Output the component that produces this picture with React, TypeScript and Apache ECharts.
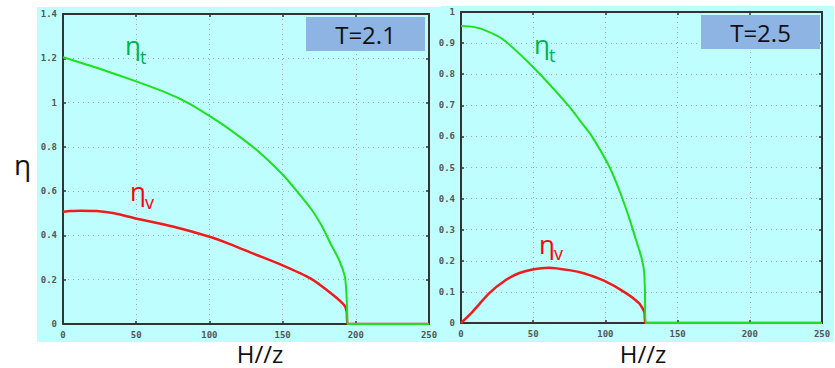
import React, { useEffect, useRef } from "react";
import * as echarts from "echarts";

// T = 2.1 panel
const leftTransverse: [number, number][] = [
  [0, 1.205], [12, 1.18], [25, 1.153], [49, 1.098], [70, 1.046], [85, 1.0],
  [100, 0.94], [114, 0.878], [131.5, 0.79], [150, 0.675], [160, 0.598],
  [170, 0.515], [177, 0.44], [183, 0.36], [188.6, 0.289], [192.5, 0.215],
  [193.5, 0.15], [194, 0.08], [194.3, 0], [250, 0],
];
const leftVector: [number, number][] = [
  [0, 0.507], [5, 0.51], [12, 0.512], [23, 0.51], [35, 0.5], [49, 0.478],
  [75, 0.44], [99.5, 0.395], [114, 0.361], [130, 0.318], [150, 0.265],
  [169, 0.206], [183, 0.139], [192, 0.086], [193.8, 0.056], [194.3, 0], [250, 0],
];
// T = 2.5 panel
const rightTransverse: [number, number][] = [
  [0, 0.955], [7, 0.953], [14.6, 0.945], [28.7, 0.913], [50.7, 0.819], [75, 0.696],
  [82, 0.653], [90, 0.605], [103, 0.5], [111, 0.41], [117, 0.33],
  [121, 0.27], [123.6, 0.232], [125.5, 0.2], [126.8, 0.165], [127.4, 0.1],
  [127.8, 0], [250, 0],
];
const rightVector: [number, number][] = [
  [0, 0], [8, 0.036], [19.4, 0.095], [31, 0.138], [40, 0.16], [49.5, 0.172],
  [61, 0.178], [75, 0.17], [85, 0.16], [99, 0.136], [114, 0.097],
  [123.6, 0.062], [127, 0.035], [127.8, 0], [250, 0],
];

const xTicks = { min: 0, max: 250, interval: 50 };
const leftYTicks = { min: 0, max: 1.4, interval: 0.2 };
const rightYTicks = { min: 0, max: 1, interval: 0.1 };
const panelTitles = ["T=2.1", "T=2.5"];

const GREEN = "#1EE01E";
const RED = "#EE1C1C";
const LABEL_GREEN = "#00B050";
const LABEL_RED = "#FF0000";
const FRAME = "#333333";
const TICK_FONT = { color: "#555", fontSize: 9, fontFamily: "DejaVu Sans Mono", fontWeight: "bold" as const };

export default function App() {
  const ref = useRef<HTMLDivElement>(null);
  useEffect(() => {
    if (!ref.current) return;
    const chart = echarts.init(ref.current, undefined, { renderer: "svg" });

    const mainX = (gridIndex: number) => ({
      type: "value" as const, gridIndex, position: "bottom" as const, ...xTicks,
      axisLine: { show: true, onZero: false, lineStyle: { color: FRAME, width: 2 } },
      axisTick: { show: true, inside: true, length: 3, lineStyle: { color: FRAME, width: 1.5 } },
      axisLabel: { ...TICK_FONT, margin: 6 },
      splitLine: { show: true, lineStyle: { color: "#9aa", type: [1, 4] as any, width: 1 } },
    });
    const topX = (gridIndex: number) => ({
      type: "value" as const, gridIndex, position: "top" as const, ...xTicks,
      axisLine: { show: true, onZero: false, lineStyle: { color: FRAME, width: 2 } },
      axisTick: { show: true, inside: true, length: 3, lineStyle: { color: FRAME, width: 1.5 } },
      axisLabel: { show: false }, splitLine: { show: false },
    });
    const mainY = (gridIndex: number, t: any) => ({
      type: "value" as const, gridIndex, position: "left" as const, ...t,
      axisLine: { show: true, onZero: false, lineStyle: { color: FRAME, width: 2 } },
      axisTick: { show: true, inside: true, length: 3, lineStyle: { color: FRAME, width: 1.5 } },
      axisLabel: { ...TICK_FONT, margin: 6 },
      splitLine: { show: true, lineStyle: { color: "#9aa", type: [1, 4] as any, width: 1 } },
    });
    const rightY = (gridIndex: number, t: any) => ({
      type: "value" as const, gridIndex, position: "right" as const, ...t,
      axisLine: { show: true, onZero: false, lineStyle: { color: FRAME, width: 2 } },
      axisTick: { show: true, inside: true, length: 3, lineStyle: { color: FRAME, width: 1.5 } },
      axisLabel: { show: false }, splitLine: { show: false },
    });

    const line = (data: [number, number][], color: string, width: number, xi: number, yi: number, z: number) => ({
      type: "line" as const, data, xAxisIndex: xi, yAxisIndex: yi, symbol: "none",
      smooth: 0.2,
      lineStyle: { color, width }, z,
    });

    const txt = (text: string, x: number, y: number, size: number, fill: string, align = "left") => ({
      type: "text" as const, x, y, z: 50,
      style: { text, fill, font: `${size}px "Open Sans"`, align, verticalAlign: "middle" },
    });

    chart.setOption({
      animation: false,
      grid: [
        { left: 63, top: 14, right: 406, bottom: 44 },
        { left: 461, top: 12, right: 13, bottom: 45 },
      ],
      xAxis: [mainX(0), topX(0), mainX(1), topX(1)],
      yAxis: [mainY(0, leftYTicks), rightY(0, leftYTicks), mainY(1, rightYTicks), rightY(1, rightYTicks)],
      series: [
        line(leftVector, RED, 2.5, 0, 0, 3),
        line(leftTransverse, GREEN, 2, 0, 0, 4),
        line(rightVector, RED, 2.5, 2, 2, 3),
        line(rightTransverse, GREEN, 2, 2, 2, 4),
      ],
      graphic: [
        { type: "rect", z: -10, silent: true, shape: { x: 37, y: 7, width: 404, height: 335 }, style: { fill: "#BEFEFE" } },
        { type: "rect", z: -10, silent: true, shape: { x: 441, y: 6, width: 393, height: 336 }, style: { fill: "#BEFEFE" } },
        { type: "rect", z: 40, shape: { x: 306, y: 17, width: 119, height: 34 }, style: { fill: "#8DB4E2" } },
        { type: "rect", z: 40, shape: { x: 701, y: 15, width: 119, height: 34 }, style: { fill: "#8DB4E2" } },
        txt(panelTitles[0], 365.5, 34, 24, "#111", "center"),
        txt(panelTitles[1], 760.5, 32, 24, "#111", "center"),
        txt("η", 14, 164, 28, "#111"),
        txt("H//z", 260, 353, 24, "#111", "center"),
        txt("H//z", 643, 353, 24, "#111", "center"),
        txt("η", 125, 45, 26, LABEL_GREEN),
        txt("t", 140, 57, 18, LABEL_GREEN),
        txt("η", 130, 191, 26, LABEL_RED),
        txt("v", 145, 202, 18, LABEL_RED),
        txt("η", 534, 44, 26, LABEL_GREEN),
        txt("t", 549, 55, 18, LABEL_GREEN),
        txt("η", 539, 244, 26, LABEL_RED),
        txt("v", 554, 253, 18, LABEL_RED),
      ],
    });
    return () => chart.dispose();
  }, []);
  return <div ref={ref} style={{ width: 835, height: 368, position: "absolute", left: 0, top: 0 }} />;
}
